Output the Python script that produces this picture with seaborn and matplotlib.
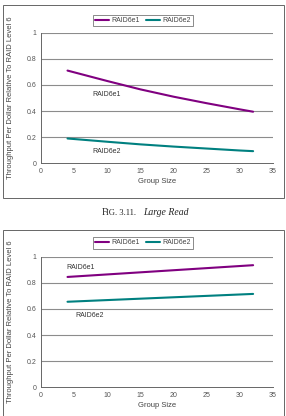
import matplotlib
matplotlib.use("Agg")
import matplotlib.pyplot as plt
from matplotlib.patches import Rectangle
import seaborn as sns
import pandas as pd

# values
group_size = [4, 10, 15, 20, 25, 30, 32]
read_e1 = [0.71, 0.63, 0.566, 0.51, 0.46, 0.413, 0.395]
read_e2 = [0.19, 0.165, 0.145, 0.128, 0.113, 0.098, 0.093]

write_size = [4, 32]
write_e1 = [0.845, 0.935]
write_e2 = [0.655, 0.715]

series_names = ["RAID6e1", "RAID6e2"]
colors = {"RAID6e1": "#800080", "RAID6e2": "#008080"}
x_ticks = [0, 5, 10, 15, 20, 25, 30, 35]
y_ticks = [0, 0.2, 0.4, 0.6, 0.8, 1]
y_ticklabels = ["0", "0.2", "0.4", "0.6", "0.8", "1"]

sns.set_style("white")
plt.rcParams["font.family"] = ["Liberation Sans", "DejaVu Sans"]

W, H = 286, 416
fig = plt.figure(figsize=(W / 100, H / 100), dpi=100)


def px_axes(x0, y_top, x1, y_bot):
    return fig.add_axes([x0 / W, 1 - y_bot / H, (x1 - x0) / W, (y_bot - y_top) / H])


def draw(ax, x, e1, e2, labels, legend_y):
    df = pd.DataFrame({"Group Size": x * 2,
                       "value": e1 + e2,
                       "series": [series_names[0]] * len(x) + [series_names[1]] * len(x)})
    for y in y_ticks[1:]:
        ax.axhline(y, color="#8c8c8c", lw=0.8, zorder=0)
    sns.lineplot(data=df, x="Group Size", y="value", hue="series", palette=colors,
                 linewidth=1.5, ax=ax, legend=False)
    ax.set_xlim(0, 35)
    ax.set_ylim(0, 1)
    ax.set_xticks(x_ticks)
    ax.set_yticks(y_ticks)
    ax.set_yticklabels(y_ticklabels)
    ax.tick_params(direction="inout", length=3, width=0.6, labelsize=5,
                   colors="#444444", labelcolor="#555555", pad=2)
    for s in ["top", "right"]:
        ax.spines[s].set_visible(False)
    for s in ["left", "bottom"]:
        ax.spines[s].set_color("#666666")
        ax.spines[s].set_linewidth(0.7)
    ax.set_xlabel("Group Size", fontsize=5.5, color="#444444", labelpad=2)
    ax.set_ylabel("Throughput Per Dollar Relative To RAID Level 6", fontsize=5.5,
                  color="#444444", labelpad=9)
    for name, (lx, ly) in zip(series_names, labels):
        ax.text(lx, ly, name, fontsize=5, color="#333333", va="center")
    handles = [plt.Line2D([], [], color=colors[n], lw=1.5) for n in series_names]
    leg = fig.legend(handles, series_names, loc="center", ncol=2,
                     bbox_to_anchor=(0.5, 1 - legend_y / H), fontsize=5,
                     frameon=True, fancybox=False, edgecolor="#555555",
                     handlelength=2, handletextpad=0.3, columnspacing=1.0,
                     borderpad=0.35, labelcolor="#444444")
    leg.get_frame().set_linewidth(0.6)


ax1 = px_axes(41, 32.7, 273, 163.3)
draw(ax1, group_size, read_e1, read_e2, [(7.7, 0.53), (7.7, 0.09)], 20.5)

ax2 = px_axes(41, 256.7, 273, 387.3)
draw(ax2, write_size, write_e1, write_e2, [(3.9, 0.92), (5.2, 0.55)], 243)

# chart frames
fig.patches.append(Rectangle((2.5 / W, 1 - 197.5 / H), 281 / W, 192.5 / H,
                             transform=fig.transFigure, fill=False,
                             edgecolor="#666666", lw=0.7))
fig.patches.append(Rectangle((2.5 / W, 0.0), 281 / W, 1 - 230 / H,
                             transform=fig.transFigure, fill=False,
                             edgecolor="#666666", lw=0.7))

# caption (small caps imitated with two sizes)
cap_y = 1 - 215 / H
serif = ["Liberation Serif", "DejaVu Serif"]
fig.text(101.5 / W, cap_y, "F", fontsize=7.2, family=serif, ha="left", va="baseline")
fig.text(106.3 / W, cap_y, "IG. 3.11.", fontsize=6.2, family=serif, ha="left", va="baseline")
fig.text(143 / W, cap_y, "Large Read", fontsize=7, family=serif,
         style="italic", ha="left", va="baseline")

fig.savefig("out.png", dpi=100)
